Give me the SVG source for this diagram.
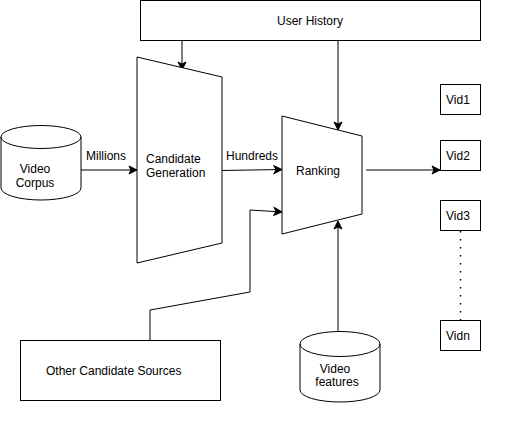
<svg xmlns="http://www.w3.org/2000/svg" width="521" height="421" viewBox="0 0 521 421">
<style>
.s{fill:#fff;stroke:#000;stroke-width:1}
.c{fill:none;stroke:#000;stroke-width:1}
text{font-family:"Liberation Sans",Arial,sans-serif;font-size:12px;fill:#000}
</style>
<defs>
<marker id="a" markerUnits="userSpaceOnUse" markerWidth="10" markerHeight="10" viewBox="0 0 10 10" refX="9" refY="5" orient="auto">
<path d="M1,1 L9,5 L1,9 L3,5 Z" fill="#000" stroke="#000"/>
</marker>
</defs>
<rect width="521" height="421" fill="#fff"/>
<g id="connectors">
<path class="c" d="M182,40 V70" marker-end="url(#a)"/>
<path class="c" d="M338,40 V130" marker-end="url(#a)"/>
<path class="c" d="M81,170 H137" marker-end="url(#a)"/>
<path class="c" d="M221,170.5 L282,169.5" marker-end="url(#a)"/>
<path class="c" d="M366,170 H440" marker-end="url(#a)"/>
<path class="c" d="M150,340 V310 L250,292 V210 L282,212" marker-end="url(#a)"/>
<path class="c" d="M338,331 V221" marker-end="url(#a)"/>
<path d="M460.5,231 V320" fill="none" stroke="#000" stroke-width="1.5" stroke-dasharray="1.5 6.5"/>
<text x="86" y="160">Millions</text>
<text x="226" y="160">Hundreds</text>
</g>
<g id="user-history">
<rect class="s" x="140.5" y="0.5" width="340" height="40"/>
<text x="310" y="25" text-anchor="middle">User History</text>
</g>
<g id="candidate-generation">
<path class="s" d="M137,57 L222,77 V243 L137,263 Z"/>
<text x="146" y="163">Candidate</text>
<text x="146" y="177">Generation</text>
</g>
<g id="ranking">
<path class="s" d="M282,116 L362,136 V214 L282,234 Z"/>
<text x="296" y="175">Ranking</text>
</g>
<g id="video-corpus">
<path class="s" d="M1,137 L1,188 A40,12 0 0 0 81,188 L81,137 A40,11.5 0 0 0 1,137 Z"/>
<path class="c" d="M1,137 A40,11.5 0 0 0 81,137"/>
<text x="35" y="173" text-anchor="middle">Video</text>
<text x="35" y="187" text-anchor="middle">Corpus</text>
</g>
<g id="video-features">
<path class="s" d="M300,344 L300,390 A40,12 0 0 0 380,390 L380,344 A40,12.5 0 0 0 300,344 Z"/>
<path class="c" d="M300,344 A40,12.5 0 0 0 380,344"/>
<text x="335" y="373" text-anchor="middle">Video</text>
<text x="337" y="386" text-anchor="middle">features</text>
</g>
<g id="other-candidate-sources">
<rect class="s" x="20.5" y="340.5" width="200" height="60"/>
<text x="46" y="375">Other Candidate Sources</text>
</g>
<g id="vid1">
<rect class="s" x="440.5" y="84.5" width="40" height="30"/>
<text x="446" y="104">Vid1</text>
</g>
<g id="vid2">
<rect class="s" x="440.5" y="140.5" width="40" height="30"/>
<text x="446" y="160">Vid2</text>
</g>
<g id="vid3">
<rect class="s" x="440.5" y="200.5" width="40" height="30"/>
<text x="446" y="220">Vid3</text>
</g>
<g id="vidn">
<rect class="s" x="440.5" y="320.5" width="40" height="30"/>
<text x="446" y="340">Vidn</text>
</g>
</svg>
